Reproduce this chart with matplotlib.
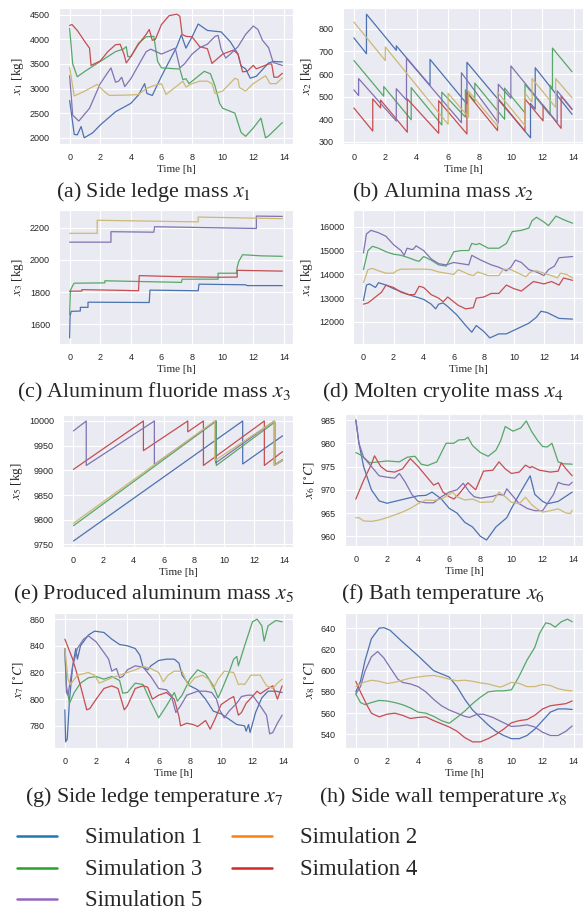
import matplotlib
matplotlib.use('Agg')
import matplotlib.pyplot as plt
import seaborn as sns
from matplotlib.lines import Line2D

sns.set_style('darkgrid')
plt.rcParams['font.family'] = ['Liberation Sans', 'DejaVu Sans']
plt.rcParams['mathtext.fontset'] = 'stix'
SERIF = ['Liberation Serif', 'DejaVu Serif']

W, H = 587, 914

sim_labels = ['Simulation 1', 'Simulation 2', 'Simulation 3', 'Simulation 4', 'Simulation 5']
line_colors = ['#4C72B0', '#CCB974', '#55A868', '#C44E52', '#8172B2']
legend_colors = ['#1f77b4', '#ff7f0e', '#2ca02c', '#d62728', '#9467bd']

# (time [h], value) knots
# (a) side ledge mass x1 [kg]
a_sim1 = [(0, 2760), (0.3, 2070), (0.5, 2060), (0.75, 2230), (0.95, 2000), (1.5, 2100), (2, 2260), (3, 2530),
          (4, 2700), (4.5, 2870), (4.9, 3100), (5.05, 2900), (5.4, 2860), (6, 3250), (6.5, 3550), (7, 3850),
          (7.3, 4090), (7.6, 3820), (8, 4050), (8.4, 4310), (9, 4180), (9.9, 4150), (10.5, 3950), (11, 3700),
          (11.2, 3460), (11.5, 3400), (11.8, 3210), (12.2, 3250), (13, 3520), (13.3, 3550), (13.9, 3540)]
a_sim2 = [(0, 3430), (0.3, 2850), (1, 2950), (1.8, 3085), (2.3, 2930), (2.6, 2860), (4, 2870), (4.5, 2880),
          (5, 3000), (5.5, 3060), (6, 3100), (6.3, 2880), (7, 3050), (7.4, 3150), (7.6, 3030), (8, 3100),
          (8.5, 3150), (9, 3150), (9.3, 3100), (9.5, 2900), (10, 2950), (10.8, 3210), (11, 3180), (11.1, 3020),
          (11.5, 2950), (12, 3100), (12.8, 3260), (13.1, 3100), (13.5, 3100), (13.9, 3220)]
a_sim3 = [(0, 4220), (0.2, 3500), (0.5, 3240), (1, 3350), (2, 3550), (3, 3750), (3.5, 3800), (3.7, 3850),
          (3.8, 3650), (4, 3650), (4.5, 3920), (5, 4050), (5.5, 4060), (5.75, 3550), (6, 3420), (7, 3400),
          (7.2, 3400), (7.4, 3180), (7.6, 3200), (7.8, 3100), (8, 3150), (8.8, 3350), (9.2, 3300), (9.5, 3050),
          (9.8, 2700), (10, 2600), (10.8, 2500), (11.2, 2110), (11.5, 2030), (12, 2200), (12.5, 2400),
          (12.8, 2000), (13, 2040), (13.9, 2310)]
a_sim4 = [(0, 4280), (0.15, 4300), (0.5, 4180), (1, 3950), (1.3, 3820), (1.4, 3470), (2, 3560), (2.5, 3750),
          (3, 3890), (3.3, 3900), (3.55, 3700), (3.7, 3520), (4, 3650), (4.5, 3900), (5, 4100), (5.2, 4200),
          (5.4, 3980), (5.6, 4000), (6, 4300), (6.5, 4480), (7, 4510), (7.2, 4470), (7.35, 4100), (7.6, 4060),
          (8, 4050), (8.5, 3850), (9, 3810), (9.3, 3510), (10, 3700), (10.7, 3780), (11, 3700), (11.3, 3340),
          (11.6, 3350), (12, 3470), (12.2, 3400), (13, 3500), (13.2, 3500), (13.35, 3230), (13.6, 3230),
          (13.9, 3310)]
a_sim5 = [(0, 3260), (0.2, 2460), (0.6, 2340), (1.3, 2600), (2, 3100), (2.7, 3420), (3, 3130), (3.2, 3150),
          (3.4, 3230), (3.6, 3040), (4, 3200), (5, 3750), (5.3, 3800), (6, 3700), (6.9, 3820), (7.2, 3420),
          (7.5, 3500), (8, 3700), (8.5, 3830), (9, 3900), (9.5, 4060), (9.7, 4080), (9.9, 3800), (10.2, 3620),
          (10.5, 3700), (11, 3850), (11.5, 4100), (12, 4270), (12.3, 4200), (12.6, 3980), (13, 3830),
          (13.3, 3530), (13.9, 3470)]
a_yticks = [2000, 2500, 3000, 3500, 4000, 4500]

# (b) alumina mass x2 [kg]
b_sim1 = [(0, 760), (0.8, 690), (0.8, 865), (2.7, 705), (2.7, 725), (4.85, 550), (4.85, 665), (7.2, 468),
          (7.2, 652), (11.25, 318), (11.25, 470), (11.55, 445), (11.55, 628), (13.9, 422)]
b_sim2 = [(0, 830), (2.0, 660), (2.0, 720), (6.0, 378), (6.0, 515), (7.3, 410), (7.3, 525), (9.15, 370),
          (9.15, 520), (10.9, 372), (10.9, 515), (11.35, 477), (11.35, 580), (12.85, 453), (12.85, 580),
          (13.9, 495)]
b_sim3 = [(0, 660), (1.9, 502), (1.9, 545), (3.65, 398), (3.65, 540), (5.6, 375), (5.6, 520), (7.1, 410),
          (7.1, 530), (7.7, 479), (7.7, 560), (9.6, 400), (9.6, 538), (10.9, 428), (10.9, 555), (12.5, 419),
          (12.5, 550), (12.65, 537), (12.65, 715), (13.9, 610)]
b_sim4 = [(0, 450), (1.2, 348), (1.2, 490), (1.7, 450), (1.7, 485), (3.4, 343), (3.4, 490), (5.4, 338),
          (5.4, 482), (7.2, 335), (7.2, 517), (9.15, 350), (9.15, 495), (10.9, 348), (10.9, 490), (12.05, 393),
          (12.05, 462), (13.2, 360), (13.2, 502), (13.9, 443)]
b_sim5 = [(0, 530), (0.3, 505), (0.3, 580), (2.7, 392), (2.7, 535), (3.35, 485), (3.35, 670), (6.85, 385),
          (6.85, 606), (9.2, 385), (9.2, 555), (10.0, 493), (10.0, 636), (12.95, 386), (12.95, 526), (13.9, 446)]
b_yticks = [300, 400, 500, 600, 700, 800]

# (c) aluminum fluoride mass x3 [kg]
c_sim1 = [(0, 1515), (0.03, 1650), (0.1, 1680), (0.7, 1682), (0.7, 1705), (1.2, 1705), (1.2, 1737),
          (5.2, 1735), (5.25, 1812), (8.4, 1808), (8.45, 1849), (11.5, 1845), (11.6, 1840), (13.9, 1840)]
c_sim2 = [(0, 2165), (1.8, 2165), (1.8, 2246), (8.4, 2236), (8.4, 2266), (13.9, 2256)]
c_sim3 = [(0, 1660), (0.05, 1810), (0.2, 1840), (0.3, 1855), (2.3, 1857), (2.3, 1870), (7.3, 1860),
          (7.35, 1880), (9.7, 1880), (9.7, 1917), (10.9, 1917), (10.95, 1955), (11.05, 1990), (11.3, 2032),
          (12.5, 2025), (13.9, 2022)]
c_sim4 = [(0, 1805), (0.8, 1806), (0.8, 1815), (3.7, 1810), (4.5, 1808), (4.55, 1902), (7, 1896),
          (9.7, 1892), (10.95, 1893), (10.95, 1935), (13.9, 1930)]
c_sim5 = [(0, 2110), (2.7, 2110), (2.7, 2175), (5.5, 2172), (5.55, 2206), (12.2, 2195), (12.2, 2272),
          (13.9, 2270)]
c_yticks = [1600, 1800, 2000, 2200]

# (d) molten cryolite mass x4 [kg]
d_sim1 = [(0, 12900), (0.2, 13550), (0.4, 13600), (0.8, 13450), (1, 13650), (1.5, 13550), (2, 13400),
          (3, 13150), (4, 12950), (4.5, 12750), (4.8, 12550), (5, 12750), (5.3, 12800), (5.6, 12650),
          (6.2, 12300), (6.8, 11850), (7.2, 11570), (7.5, 11850), (8, 11600), (8.4, 11330), (9, 11500),
          (9.5, 11500), (10, 11650), (10.5, 11800), (11, 11950), (11.3, 12100), (11.5, 12200), (11.8, 12450),
          (12.2, 12400), (13, 12150), (13.9, 12120)]
d_sim2 = [(0, 13650), (0.3, 14200), (0.6, 14250), (1, 14150), (1.5, 14050), (2, 14050), (2.2, 14150),
          (2.5, 14220), (4, 14220), (4.5, 14200), (5, 14100), (6, 14000), (6.3, 14200), (7, 14000),
          (7.3, 13950), (7.6, 14100), (8.3, 13950), (9, 13950), (9.3, 14220), (9.8, 14200), (10.3, 14050),
          (10.8, 13900), (11.1, 14100), (11.5, 14150), (12, 14050), (12.5, 13950), (12.9, 13850),
          (13.1, 14050), (13.5, 14000), (13.9, 13850)]
d_sim3 = [(0, 14200), (0.3, 15000), (0.6, 15180), (1, 15100), (1.5, 14950), (2, 14850), (2.5, 14800),
          (3, 14700), (3.5, 14580), (3.7, 14550), (4, 14750), (4.5, 14600), (5, 14400), (5.5, 14350),
          (5.8, 14700), (6, 14950), (6.5, 15000), (7, 15000), (7.2, 15300), (7.5, 15250), (7.7, 15300),
          (8.3, 15100), (9, 15100), (9.5, 15300), (9.9, 15800), (10.5, 15850), (11, 15950), (11.2, 16250),
          (11.5, 16400), (12, 16200), (12.3, 16050), (12.8, 16450), (13.3, 16300), (13.9, 16150)]
d_sim4 = [(0, 12750), (0.3, 12800), (0.7, 13000), (1.2, 13250), (1.5, 13550), (2, 13450), (2.5, 13250),
          (3, 13150), (3.4, 13150), (3.7, 13500), (4, 13450), (4.5, 13150), (5, 13000), (5.3, 12850),
          (5.6, 13050), (6.3, 12700), (6.8, 12550), (7.3, 12600), (7.5, 13000), (8, 13050), (8.5, 13200),
          (9, 13200), (9.5, 13550), (10, 13400), (10.5, 13300), (11, 13550), (11.3, 13700), (12, 13600),
          (12.5, 13700), (13, 13550), (13.3, 13850), (13.9, 13750)]
d_sim5 = [(0, 14900), (0.2, 15700), (0.5, 15850), (1, 15750), (1.5, 15600), (2, 15250), (2.5, 15000),
          (2.7, 14800), (2.9, 15100), (3.2, 15050), (3.3, 15050), (3.5, 15200), (4, 15000), (4.5, 14650),
          (5, 14450), (5.5, 14400), (6, 14500), (6.5, 14450), (7, 14400), (7.2, 14800), (7.8, 14600),
          (8.5, 14400), (9, 14300), (9.5, 14150), (9.8, 14300), (10.1, 14600), (10.5, 14500), (11, 14200),
          (11.5, 14100), (12, 13950), (12.3, 14200), (12.7, 14350), (13, 14700), (13.9, 14750)]
d_yticks = [12000, 13000, 14000, 15000, 16000]

# (e) produced aluminum mass x5 [kg]
e_sim1 = [(0, 9757), (11.25, 10000), (11.25, 9913), (13.9, 9970)]
e_sim2 = [(0, 9793), (9.4, 10000), (9.4, 9920), (13.35, 10000), (13.35, 9910), (13.9, 9921)]
e_sim3 = [(0, 9788), (9.5, 10000), (9.5, 9910), (13.4, 9998), (13.4, 9912), (13.9, 9922)]
e_sim4 = [(0, 9902), (4.65, 10000), (4.65, 9940), (7.6, 10000), (7.6, 9978), (8.64, 10000), (8.64, 9910),
          (12.69, 10000), (12.69, 9910), (13.9, 9938)]
e_sim5 = [(0, 9980), (0.85, 10000), (0.85, 9910), (5.38, 10000), (5.38, 9912), (9.45, 10000), (9.45, 9915),
          (13.35, 10000), (13.35, 9910), (13.9, 9920)]
e_yticks = [9750, 9800, 9850, 9900, 9950, 10000]

# (f) bath temperature x6 [C]
f_sim1 = [(0, 985), (0.2, 980), (0.5, 975), (1, 970), (1.5, 967.6), (2, 967.1), (3, 967.9), (4, 968.7),
          (4.5, 968.8), (4.9, 969.5), (5.5, 968), (6, 966), (6.5, 965), (7, 963), (7.5, 962), (8, 960),
          (8.4, 959.2), (9, 962), (9.7, 964), (10, 966), (10.5, 969), (11.2, 973), (11.5, 969), (12, 967.5),
          (12.3, 967), (13, 967.5), (13.9, 969.5)]
f_sim2 = [(0, 964), (0.2, 964), (0.5, 963.3), (1, 963.2), (1.5, 963.5), (2, 964), (2.5, 964.6), (3, 965.2),
          (3.5, 966), (4, 967), (4.5, 967.8), (5, 967.7), (5.5, 968), (6, 969), (6.2, 969.5), (6.5, 968.5),
          (7, 967.8), (7.5, 968), (8, 967.3), (8.8, 967.4), (9.2, 969.5), (9.6, 968.5), (10, 967.3),
          (10.5, 967), (10.9, 968.4), (11.3, 966.8), (11.6, 966), (12, 965.2), (12.5, 965.5), (13, 965.9),
          (13.5, 965), (13.8, 964.9), (13.9, 965.6)]
f_sim3 = [(0, 978), (0.3, 977.5), (0.9, 975.8), (1.5, 976), (2, 976.2), (2.8, 976), (3.3, 977), (3.8, 977.2),
          (4.2, 975.5), (4.6, 975.2), (5.2, 976), (5.8, 980), (6.3, 980), (6.6, 980.7), (7, 980.8),
          (7.2, 981.3), (7.5, 979.5), (8, 978), (8.5, 977.2), (9, 978.5), (9.3, 980.5), (9.6, 983.6),
          (10.1, 982.6), (10.6, 983.3), (10.95, 984.8), (11.3, 982.5), (11.7, 980.5), (12, 979.3),
          (12.3, 979.2), (12.6, 980), (13, 976), (13.3, 975.6), (13.9, 975.5)]
f_sim4 = [(0, 968), (0.5, 972), (1, 975.5), (1.2, 977.3), (1.6, 975), (2, 974), (2.5, 973.8), (3, 974.5),
          (3.5, 976.7), (4, 975), (4.5, 973), (5, 971), (5.3, 971.5), (5.6, 969.5), (6, 968.5), (6.3, 968),
          (6.6, 969), (7.2, 971.5), (7.7, 970), (8.2, 974), (8.8, 974.2), (9.2, 976), (9.6, 974.5), (10, 973.5),
          (10.5, 973.8), (10.9, 975.3), (11.2, 974.7), (11.3, 975), (11.8, 974.2), (12.5, 973.8), (13, 974),
          (13.2, 975.8), (13.5, 974.5), (13.9, 973)]
f_sim5 = [(0, 985), (0.2, 980), (0.5, 977), (1, 975), (1.5, 973), (2, 972.7), (2.5, 972.5), (2.8, 973.5),
          (3.2, 971.5), (3.6, 969), (4, 967.5), (4.5, 967.2), (5, 967.2), (5.5, 968.5), (6, 969.5), (6.5, 970),
          (6.9, 971.4), (7.3, 969.5), (7.6, 968.5), (8, 968.2), (8.8, 968.6), (9.2, 969), (9.5, 968.8),
          (9.7, 970.2), (10, 969), (10.5, 967), (11, 966), (11.5, 965.5), (12, 965.5), (12.3, 967),
          (12.7, 969), (13, 971.6), (13.3, 971.2), (13.7, 971), (13.9, 971.6)]
f_yticks = [960, 965, 970, 975, 980, 985]

# (g) side ledge temperature x7 [C]
g_sim1 = [(0, 792), (0.05, 768), (0.15, 770), (0.3, 800), (0.5, 825), (0.7, 838), (0.8, 830), (1, 840),
          (1.5, 848), (1.9, 851), (2.5, 850), (3, 845), (3.5, 841), (4, 840), (4.5, 838), (4.8, 833),
          (5, 824), (5.3, 822), (5.5, 825), (6, 829), (6.5, 830), (7, 830), (7.3, 827), (7.5, 818), (8, 810),
          (8.5, 807), (9, 800), (9.5, 791), (10, 789), (10.5, 785), (11, 781), (11.5, 780), (11.6, 776),
          (11.75, 781), (11.85, 775), (12.2, 790), (12.6, 801), (13, 806), (13.5, 806), (13.9, 805)]
g_sim2 = [(0, 838), (0.2, 815), (0.35, 811), (0.8, 818), (1.5, 820), (1.9, 818), (2.2, 812), (2.6, 814),
          (3, 816), (3.5, 818), (4, 820), (4.5, 822), (5, 824.5), (5.5, 823), (6, 820), (6.3, 813), (6.6, 818),
          (7, 821), (7.5, 821), (7.9, 810), (8.3, 816), (8.8, 818), (9.2, 815), (9.5, 808), (9.8, 815),
          (10.2, 821), (10.8, 820), (11.1, 811), (11.3, 811.5), (11.5, 811), (11.9, 818), (12.5, 818),
          (12.9, 810), (13.3, 808), (13.6, 812), (13.9, 815)]
g_sim3 = [(0, 838), (0.1, 810), (0.3, 797), (0.6, 805), (1, 812), (1.5, 816), (2, 817), (2.5, 815), (3, 817),
          (3.5, 814), (3.7, 804.5), (4, 805), (4.5, 812), (5, 811), (5.5, 798), (6, 786), (6.5, 795), (7, 805),
          (7.2, 798.5), (7.5, 803), (8, 815), (8.5, 822), (9, 819), (9.5, 810), (9.8, 801), (10, 806),
          (10.5, 820), (10.8, 830), (11, 832), (11.1, 825), (11.5, 840), (12, 858), (12.3, 860), (12.6, 855),
          (12.75, 843.5), (13, 855), (13.5, 859), (13.9, 858)]
g_sim4 = [(0, 845), (0.5, 830), (1, 810), (1.4, 792), (1.6, 793), (2, 800), (2.5, 808), (3, 810), (3.4, 808),
          (3.8, 792), (4, 795), (4.5, 808), (5, 810), (5.3, 809), (5.6, 800), (6, 803), (6.5, 805), (7, 800),
          (7.3, 787), (7.4, 780), (7.8, 782), (8.2, 781), (8.5, 779.5), (9, 784), (9.3, 777.5), (9.6, 785),
          (10, 796), (10.5, 800), (10.8, 802), (11.1, 788), (11.3, 790), (11.6, 797), (12, 802), (12.3, 806),
          (12.5, 804), (13, 808), (13.3, 810), (13.6, 800), (13.9, 810)]
g_sim5 = [(0, 838), (0.1, 805), (0.2, 803), (0.5, 825), (0.8, 838), (1.2, 845), (1.5, 847.5), (2, 843),
          (2.5, 835), (2.8, 830), (3, 821), (3.3, 823), (3.5, 816), (3.7, 817), (4, 822), (4.5, 825), (5, 824),
          (5.5, 817), (6, 808), (6.5, 807), (6.8, 803), (7.1, 790), (7.4, 795), (7.8, 803), (8.5, 806), (9, 806),
          (9.4, 805), (9.7, 800), (9.9, 792), (10.2, 786), (10.5, 791), (11, 797), (11.3, 802), (11.7, 803),
          (12, 803), (12.5, 795), (12.9, 788), (13.1, 774), (13.3, 775), (13.6, 782), (13.9, 788)]
g_yticks = [780, 800, 820, 840, 860]

# (h) side wall temperature x8 [C]
h_sim1 = [(0, 580), (0.3, 590), (0.6, 610), (1, 630), (1.5, 640), (1.8, 640.5), (2.2, 638), (3, 627),
          (4, 614), (5, 600), (5.5, 597), (6, 594), (6.5, 585), (7, 573), (7.5, 563), (8, 556), (8.5, 549),
          (9, 543), (9.5, 539), (10, 536), (10.5, 536), (11, 539), (11.5, 545), (12, 553), (12.5, 561),
          (13, 564), (13.5, 564), (13.9, 563.5)]
h_sim2 = [(0, 585), (0.5, 589), (1, 591), (1.5, 590), (2, 588), (2.5, 589), (3, 591), (3.5, 593), (4, 594),
          (4.5, 595), (5, 595.5), (5.5, 594), (6, 592), (6.5, 590.5), (7, 591), (7.5, 590), (8, 588.5),
          (8.5, 587.5), (9, 585.5), (9.3, 584.5), (9.7, 587), (10, 589), (10.5, 588), (11, 585), (11.5, 585),
          (12, 587), (12.5, 586), (13, 583), (13.5, 581.5), (13.9, 581)]
h_sim3 = [(0, 578), (0.3, 570), (0.6, 568), (1, 570), (1.5, 572), (2, 571.5), (2.5, 570), (3, 568), (3.5, 565),
          (4, 561), (4.5, 560), (5, 557), (5.5, 553), (6, 550.5), (6.5, 556), (7, 562), (7.5, 569), (8, 575),
          (8.5, 580), (9, 581), (9.5, 581), (10, 582), (10.5, 595), (11, 610), (11.5, 622), (11.8, 635),
          (12.2, 645), (12.5, 644), (12.8, 641), (13.2, 646), (13.6, 648.5), (13.9, 646)]
h_sim4 = [(0, 590), (0.3, 580), (0.7, 568), (1, 560), (1.5, 556.5), (2, 559), (2.5, 560), (3, 558),
          (3.5, 555), (4, 556), (4.5, 556.5), (5, 553), (5.5, 550), (6, 547), (6.5, 543), (7, 537), (7.5, 533),
          (8, 533), (8.5, 536), (9, 540), (9.5, 545), (10, 551), (10.5, 553), (11, 554), (11.5, 558), (12, 564),
          (12.5, 567), (13, 568), (13.5, 569), (13.9, 571.5)]
h_sim5 = [(0, 578), (0.3, 585), (0.6, 600), (1, 613), (1.4, 618), (1.8, 612), (2.2, 603), (2.7, 592),
          (3, 589), (3.5, 587.5), (4, 585), (4.5, 580), (5, 573), (5.5, 567), (6, 563), (6.5, 560), (7, 557),
          (7.3, 556), (7.8, 559), (8.2, 559), (8.8, 556), (9.5, 551), (10, 547.5), (10.5, 548), (11, 549),
          (11.5, 547), (12, 542), (12.5, 539), (13, 539), (13.5, 543), (13.9, 548)]
h_yticks = [540, 560, 580, 600, 620, 640]

xticks = [0, 2, 4, 6, 8, 10, 12, 14]

# panel: letter, caption, index, unit, series, yticks, axes box in px (left, top, right, bottom), caption baseline
panels = [
    ('a', 'Side ledge mass', 1, 'kg', [a_sim1, a_sim2, a_sim3, a_sim4, a_sim5], a_yticks, (59, 8, 293, 144), 197),
    ('b', 'Alumina mass', 2, 'kg', [b_sim1, b_sim2, b_sim3, b_sim4, b_sim5], b_yticks, (343, 8, 583, 144), 197),
    ('c', 'Aluminum fluoride mass', 3, 'kg', [c_sim1, c_sim2, c_sim3, c_sim4, c_sim5], c_yticks,
     (59, 210, 293, 344), 397),
    ('d', 'Molten cryolite mass', 4, 'kg', [d_sim1, d_sim2, d_sim3, d_sim4, d_sim5], d_yticks,
     (353, 210, 583, 344), 397),
    ('e', 'Produced aluminum mass', 5, 'kg', [e_sim1, e_sim2, e_sim3, e_sim4, e_sim5], e_yticks,
     (63, 415, 293, 547), 599),
    ('f', 'Bath temperature', 6, 'C', [f_sim1, f_sim2, f_sim3, f_sim4, f_sim5], f_yticks,
     (345, 414, 583, 546), 599),
    ('g', 'Side ledge temperature', 7, 'C', [g_sim1, g_sim2, g_sim3, g_sim4, g_sim5], g_yticks,
     (54, 613, 293, 748), 802),
    ('h', 'Side wall temperature', 8, 'C', [h_sim1, h_sim2, h_sim3, h_sim4, h_sim5], h_yticks,
     (345, 613, 583, 748), 802),
]

fig = plt.figure(figsize=(W / 100, H / 100), dpi=100)

for letter, caption, idx, unit, series, yticks, box, base in panels:
    l, t, r, b = box
    ax = fig.add_axes([l / W, 1 - b / H, (r - l) / W, (b - t) / H])
    # draw in seaborn order so that the overlaps look like the original
    for k in [0, 2, 3, 4, 1]:
        tt = [p[0] for p in series[k]]
        vv = [p[1] for p in series[k]]
        ax.plot(tt, vv, color=line_colors[k], lw=0.9)
    ax.set_xticks(xticks)
    ax.set_yticks(yticks)
    ax.tick_params(labelsize=6.5, colors='#262626', pad=3)
    ax.set_xlabel('Time [h]', fontsize=8, family=SERIF, labelpad=2)
    if unit == 'kg':
        ylab = r'$x_{%d}$ [kg]' % idx
    else:
        ylab = r'$x_{%d}$ [$^{\circ}C$]' % idx
    ax.set_ylabel(ylab, fontsize=9.5, family=SERIF, labelpad=3)
    cx = 154 if l < 200 else 443
    fig.text(cx / W, 1 - base / H, '(%s) %s $x_{%d}$' % (letter, caption, idx),
             ha='center', va='baseline', fontsize=15.8, family=SERIF)

# legend drawn row by row like the original
for i, lab in enumerate(sim_labels):
    row, col = divmod(i, 2)
    y = [836, 868, 899][row]
    x0 = 17 + col * 215
    fig.add_artist(Line2D([x0 / W, (x0 + 40) / W], [1 - y / H, 1 - y / H], color=legend_colors[i], lw=1.8,
                          transform=fig.transFigure))
    fig.text((x0 + 68) / W, 1 - (y + 7) / H, lab, ha='left', va='baseline', fontsize=16.5, family=SERIF)

fig.savefig('out.png', dpi=100)
